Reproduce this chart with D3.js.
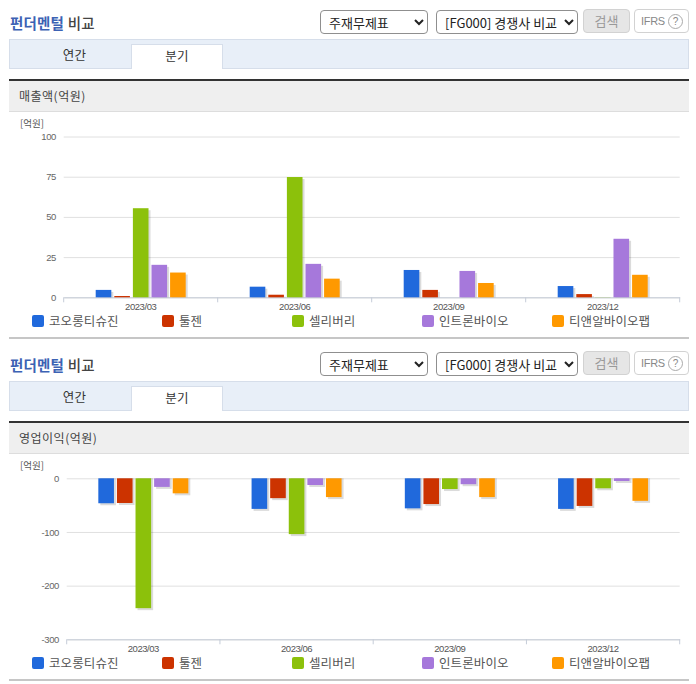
<!DOCTYPE html>
<html>
<head>
<meta charset="utf-8">
<title>펀더멘털 비교</title>
<script src="https://d3js.org/d3.v7.min.js"></script>
<style>
    html, body { margin: 0; padding: 0; background: #fff; }
    body { width: 696px; height: 684px; position: relative; overflow: hidden;
           font-family: "Noto Sans CJK KR", sans-serif; color: #444; }
    .panel { position: absolute; left: 0; width: 696px; height: 342px; }
    .panel > * { position: absolute; box-sizing: border-box; }
    .title { left: 10px; top: 13px; font-size: 14.5px; line-height: 20px; font-weight: 500; color: #444; letter-spacing: .2px; }
    .title b { font-weight: 700; color: #3c62b4; }
    select { height: 24px; top: 10px; font: 13px "Noto Sans CJK KR", sans-serif; color: #222;
             background: #fff; border: 1px solid #8f8f8f; border-radius: 4px; padding: 0 0 0 4px; }
    .s1 { left: 320px; width: 108px; }
    .s2 { left: 436px; width: 142px; }
    .btn { left: 583px; top: 9px; width: 47px; height: 24px; background: #e6e6e6; border: 1px solid #d2d2d2;
           border-radius: 4px; font-size: 13px; line-height: 21px; text-align: center; color: #999; }
    .ifrs { left: 634px; top: 9px; width: 55px; height: 24px; border: 1px solid #d2d2d2; border-radius: 4px;
            font: 11px/22px "Liberation Sans", sans-serif; color: #888; padding-left: 6px; letter-spacing: -.3px; }
    .ifrs i { position: absolute; left: 33px; top: 4px; width: 13px; height: 13px; border: 1px solid #aaa;
              border-radius: 50%; font-style: normal; font-size: 10px; line-height: 13px; text-align: center; }
    .tabs { left: 9px; top: 39px; width: 680px; height: 30px; background: #e8eff8; border: 1px solid #d6deea; }
    .tab { top: 44px; height: 25px; font-size: 12.5px; line-height: 22px; text-align: center; color: #333; letter-spacing: .3px; }
    .t1 { left: 14px; width: 121px; }
    .t2 { left: 131px; width: 92px; background: #fff; border: 1px solid #d6deea; border-bottom: 0; }
    .head { left: 9px; top: 79px; width: 680px; height: 33px; background: #efefef;
            border-top: 2px solid #333; border-bottom: 1px solid #ddd;
            font-size: 12px; line-height: 29px; padding-left: 10px; color: #444; letter-spacing: .5px; }
    .foot { left: 9px; top: 337px; width: 680px; height: 2px; background: #c6c6c6; }
    svg.plot { left: 0; top: 0; }
    svg text { font-family: "Liberation Sans", sans-serif; }
</style>
</head>
<body>
<script>
var categories = ["2023/03", "2023/06", "2023/09", "2023/12"];
var companies = ["코오롱티슈진", "툴젠", "셀리버리", "인트론바이오", "티앤알바이오팹"];
var colors = ["#2069dc", "#cc3300", "#8cc10b", "#a678db", "#ff9900"];

// one row per company, one value per quarter
var salesValues = [
    [4.6, 6.6, 17, 7],
    [0.8, 1.6, 4.6, 2],
    [55.4, 74.8, 0, 0.1],
    [20.2, 20.8, 16.4, 36.4],
    [15.4, 11.6, 8.9, 14]
];
var salesTicks = [0, 25, 50, 75, 100];

var profitValues = [
    [-46.5, -57, -56, -57],
    [-46, -37, -48, -51.5],
    [-242, -104, -20, -18.6],
    [-16, -12.5, -11, -5],
    [-28, -35, -35, -42]
];
var profitTicks = [0, -100, -200, -300];

function drawPanel(top, name, values, ticks, yDomain, yRange, plotLeft, labelRight) {
    var panel = d3.select("body").append("div").attr("class", "panel").style("top", top + "px");

    panel.append("div").attr("class", "title").html("<b>펀더멘털</b> 비교");
    panel.append("select").attr("class", "s1").append("option").text("주재무제표");
    panel.append("select").attr("class", "s2").append("option").text("[FG000] 경쟁사 비교");
    panel.append("div").attr("class", "btn").text("검색");
    panel.append("div").attr("class", "ifrs").html("IFRS<i>?</i>");
    panel.append("div").attr("class", "tabs");
    panel.append("div").attr("class", "tab t1").text("연간");
    panel.append("div").attr("class", "tab t2").text("분기");
    panel.append("div").attr("class", "head").text(name);
    panel.append("div").attr("class", "foot");

    var svg = panel.append("svg").attr("class", "plot").attr("width", 696).attr("height", 342);

    var x = d3.scaleBand().domain(categories).range([plotLeft, 679.7]);
    var x1 = d3.scaleBand().domain(d3.range(companies.length)).range([-45, 45]).paddingInner(0.16);
    var y = d3.scaleLinear().domain(yDomain).range(yRange);
    var base = d3.min(yDomain) < 0 ? y(d3.min(yDomain)) : y(0);

    svg.append("text").attr("x", 20).attr("y", yRange[1] - 9.5)
        .attr("font-size", 9.5).attr("fill", "#555").style("font-family", "'Noto Sans CJK KR'")
        .text("[억원]");

    // grid lines and y labels, plain hyphen for the minus like the original
    svg.append("g").attr("transform", "translate(" + plotLeft + ",0)")
        .call(d3.axisLeft(y).tickValues(ticks).tickFormat(String).tickSize(-(679.7 - plotLeft)).tickPadding(plotLeft - labelRight))
        .call(function (g) {
            g.select(".domain").remove();
            g.selectAll("line").attr("stroke", "#e0e0e0");
            g.selectAll("text").attr("font-size", 9.5).attr("fill", "#666").attr("letter-spacing", "-0.4");
        });

    // x axis sits at the bottom of the plot
    var xAxis = svg.append("g").attr("transform", "translate(0," + base + ")")
        .call(d3.axisBottom(x).tickSize(0).tickPadding(6));
    xAxis.select(".domain").attr("stroke", "#c5ccd8");
    xAxis.selectAll("text").attr("font-size", 9.5).attr("fill", "#555").attr("letter-spacing", "-0.45");
    xAxis.selectAll("line.sep").data(x.domain().map(function (c) { return x(c); }).concat([679.7]))
        .enter().append("line").attr("class", "sep")
        .attr("x1", function (d) { return d; }).attr("x2", function (d) { return d; })
        .attr("y1", 0).attr("y2", 5).attr("stroke", "#c5ccd8");

    // bars, with the soft shadow the original has
    var rows = svg.selectAll("g.company").data(values).enter().append("g").attr("class", "company");
    rows.each(function (row, s) {
        var g = d3.select(this);
        row.forEach(function (v, i) {
            var cx = x(categories[i]) + x.bandwidth() / 2 + x1(s);
            var y0 = Math.min(y(0), y(v));
            var h = Math.abs(y(v) - y(0));
            var neg = v < 0;
            g.append("rect").attr("x", cx + 2).attr("y", neg ? y0 : y0 + 2)
                .attr("width", x1.bandwidth()).attr("height", neg ? h + 2 : Math.max(0, h - 2))
                .attr("fill", "#000").attr("opacity", 0.14);
            g.append("rect").attr("x", cx).attr("y", y0)
                .attr("width", x1.bandwidth()).attr("height", h)
                .attr("fill", colors[s]);
        });
    });

    // legend
    var lx = d3.scalePoint().domain(companies).range([32, 552]);
    var items = svg.selectAll("g.legend").data(companies).enter().append("g")
        .attr("class", "legend")
        .attr("transform", function (d) { return "translate(" + lx(d) + ",315)"; });
    items.append("rect").attr("width", 12).attr("height", 12).attr("rx", 2)
        .attr("fill", function (d, i) { return colors[i]; });
    items.append("text").attr("x", 17).attr("y", 10.5)
        .attr("font-size", 12.5).attr("letter-spacing", "0.1").attr("fill", "#555").style("font-family", "'Noto Sans CJK KR'")
        .text(function (d) { return d; });
}

drawPanel(0, "매출액(억원)", salesValues, salesTicks, [0, 100], [297.3, 136.5], 63.7, 56);
drawPanel(342, "영업이익(억원)", profitValues, profitTicks, [-300, 0], [297.3, 136.3], 66.7, 59);
</script>
</body>
</html>
